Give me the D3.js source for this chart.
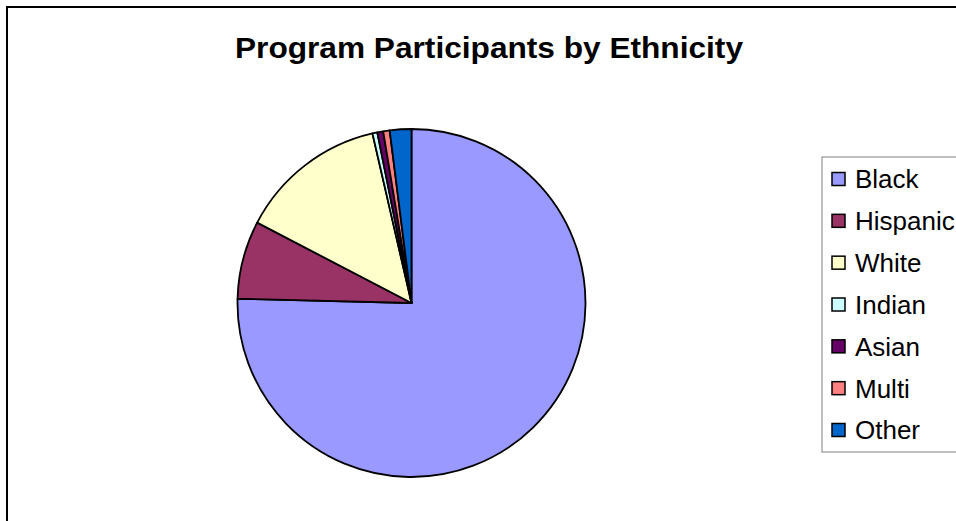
<!DOCTYPE html>
<html>
<head>
<meta charset="utf-8">
<script src="https://cdn.jsdelivr.net/npm/d3@7"></script>
<style>
  body { margin: 0; background: #fff; }
  svg { display: block; font-family: "Liberation Sans", Arial, sans-serif; }
</style>
</head>
<body>
<script>
const categories = ["Black", "Hispanic", "White", "Indian", "Asian", "Multi", "Other"];
const shares = [75.35, 7.25, 13.75, 0.45, 0.55, 0.6, 2.0];
const sliceColors = ["#9999FF", "#993366", "#FFFFCC", "#CCFFFF", "#660066", "#FF8080", "#0066CC"];

const w = 956, h = 521;

const svg = d3.select("body").append("svg")
    .attr("width", w)
    .attr("height", h);

// outer chart frame (runs past the window on right and bottom)
svg.append("rect")
    .attr("x", 7).attr("y", 7)
    .attr("width", w + 20).attr("height", h + 20)
    .attr("fill", "#fff")
    .attr("stroke", "#000")
    .attr("stroke-width", 2);

svg.append("text")
    .attr("x", 489).attr("y", 58)
    .attr("text-anchor", "middle")
    .attr("font-size", 30)
    .attr("font-weight", "bold")
    .attr("textLength", 508)
    .attr("lengthAdjust", "spacingAndGlyphs")
    .text("Program Participants by Ethnicity");

const color = d3.scaleOrdinal().domain(categories).range(sliceColors);

const pie = d3.pie().sort(null).value(d => d.value);
const arc = d3.arc().innerRadius(0).outerRadius(174);

const data = categories.map((c, i) => ({ name: c, value: shares[i] }));

const g = svg.append("g").attr("transform", "translate(411.5,303)");

g.selectAll("path")
    .data(pie(data))
    .enter().append("path")
    .attr("d", arc)
    .attr("fill", d => color(d.data.name))
    .attr("stroke", "#000")
    .attr("stroke-width", 1.8)
    .attr("stroke-linejoin", "round");

// legend
const legend = svg.append("g");
legend.append("rect")
    .attr("x", 822).attr("y", 157)
    .attr("width", 150).attr("height", 295)
    .attr("fill", "#fff")
    .attr("stroke", "#808080")
    .attr("stroke-width", 1);

const rowY = d3.scalePoint().domain(categories).range([179, 430]);

const rows = legend.selectAll("g.row")
    .data(categories)
    .enter().append("g")
    .attr("class", "row")
    .attr("transform", d => `translate(0,${rowY(d)})`);

rows.append("rect")
    .attr("x", 832).attr("y", -6.5)
    .attr("width", 13).attr("height", 13)
    .attr("fill", d => color(d))
    .attr("stroke", "#000")
    .attr("stroke-width", 1.5);

rows.append("text")
    .attr("x", 855).attr("y", 0)
    .attr("dy", "0.36em")
    .attr("font-size", 26)
    .text(d => d);
</script>
</body>
</html>
